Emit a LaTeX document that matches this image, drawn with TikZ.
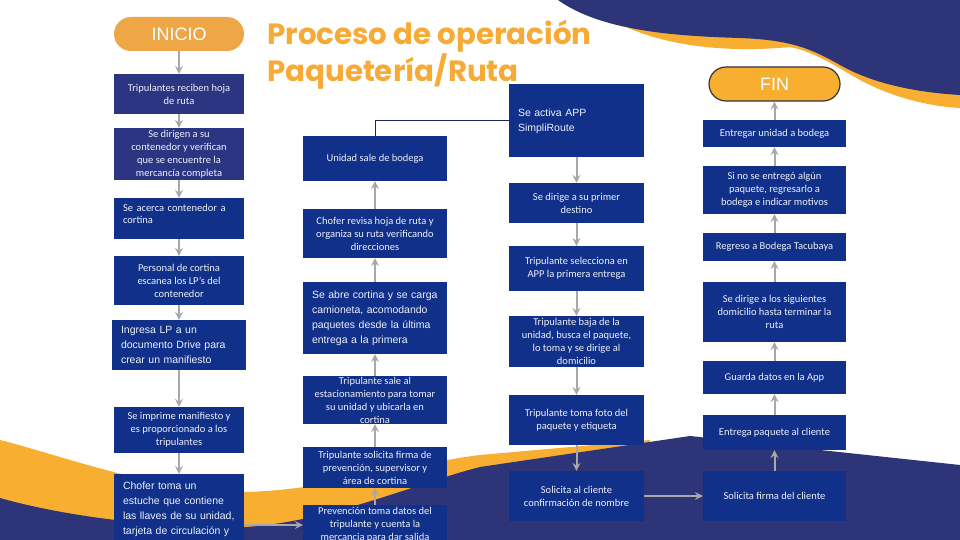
\documentclass[tikz,border=0pt]{standalone}
\usepackage{fontspec}
\setmainfont{Carlito}
\newfontfamily\arialfont{Liberation Sans}
\newfontfamily\titlefont{Poppins}
\usetikzlibrary{arrows.meta}
\definecolor{boxblue}{HTML}{10308A}
\definecolor{boxnavy}{HTML}{2C3582}
\definecolor{bgnavy}{HTML}{2E3478}
\definecolor{bgorange}{HTML}{F8AE30}
\definecolor{titleorange}{HTML}{F7AA35}
\definecolor{pillorange}{HTML}{EFA647}
\definecolor{arrowgray}{HTML}{A8A8AC}
\definecolor{boxtext}{HTML}{EEF1F8}
\definecolor{linknavy}{HTML}{1E2756}

\tikzset{
  stepbox/.style={fill=boxblue, text=boxtext, inner sep=0pt, align=center,
    font=\fontsize{10.5}{13}\selectfont},
  leftbox/.style={stepbox, inner xsep=9pt, align=left,
    font=\arialfont\fontsize{10.5}{15}\selectfont},
  pill/.style={rounded corners=17pt, inner sep=0pt, minimum height=34pt,
    text=white, font=\arialfont\fontsize{18}{20}\selectfont},
  colA/.style={minimum width=130pt},
  colB/.style={minimum width=144pt},
  colC/.style={minimum width=135pt},
  colD/.style={minimum width=143pt},
  arr/.style={draw=arrowgray, line width=2pt,
    -{Stealth[length=8pt,width=8pt,inset=3pt]}},
  link/.style={draw=linknavy, line width=1pt},
}

\begin{document}
\begin{tikzpicture}[x=1pt,y=-1pt]
  \clip (0,0) rectangle (960,540);
  \fill[white] (0,0) rectangle (960,540);

  % background waves
  \fill[bgorange] (585,0) -- (960,0) -- (960,108)
    .. controls (925,106) and (890,96) .. (860,80)
    .. controls (835,66) and (815,52) .. (790,47)
    .. controls (740,52) and (640,52) .. (585,0) -- cycle;
  \fill[bgnavy] (558,0) -- (960,0) -- (960,95)
    .. controls (910,92) and (870,82) .. (840,65)
    .. controls (810,48) and (790,40) .. (740,38)
    .. controls (670,36) and (600,30) .. (558,0) -- cycle;
  \fill[bgorange] (0,440) .. controls (60,455) and (150,490) .. (245,492)
    .. controls (330,490) and (420,462) .. (480,455) -- (650,440)
    -- (650,540) -- (0,540) -- cycle;
  \fill[bgnavy] (0,498) .. controls (60,515) and (150,528) .. (245,527)
    .. controls (330,522) and (420,482) .. (480,467) -- (690,436)
    -- (960,465) -- (960,540) -- (0,540) -- cycle;

  % title
  \node[anchor=north west, inner sep=0pt, align=left, text=titleorange,
    font=\titlefont\bfseries\fontsize{29.3}{37}\selectfont] (title) at (267,20)
    {Proceso de operación\\Paquetería/Ruta};

  % column 1
  \node[pill, colA, fill=pillorange] (inicio) at (179,34) {INICIO};
  \node[stepbox, colA, fill=boxnavy, minimum height=40pt] (b1) at (179,94)
    {Tripulantes reciben hoja\\de ruta};
  \node[stepbox, colA, fill=boxnavy, minimum height=52pt] (b2) at (179,154)
    {Se dirigen a su\\contenedor y verifican\\que se encuentre la\\mercancía completa};
  \node[stepbox, colA, inner xsep=9pt, align=left, text width=112pt,
    text height=13pt, text depth=28pt] (b3) at (179,218.5)
    {Se acerca contenedor a\\cortina};
  \node[stepbox, colA, minimum height=49pt] (b4) at (179,280.5)
    {Personal de cortina\\escanea los LP’s del\\contenedor};
  \node[leftbox, minimum width=134pt, text width=116pt, minimum height=50pt] (b5) at (179,345)
    {Ingresa LP a un\\documento Drive para\\crear un manifiesto};
  \node[stepbox, colA, minimum height=46pt] (b6) at (179,430)
    {Se imprime manifiesto y\\es proporcionado a los\\tripulantes};
  \node[leftbox, colA, text width=112pt, text height=15pt, text depth=87pt] (b7) at (179,525)
    {Chofer toma un\\estuche que contiene\\las llaves de su unidad,\\tarjeta de circulación y};

  % column 2
  \node[stepbox, colB, minimum height=40pt] (c1) at (375,525)
    {Prevención toma datos del\\tripulante y cuenta la\\mercancia para dar salida};
  \node[stepbox, colB, minimum height=41pt] (c2) at (375,467.5)
    {Tripulante solicita firma de\\prevención, supervisor y\\área de cortina};
  \node[stepbox, colB, minimum height=48pt] (c3) at (375,400)
    {Tripulante sale al\\estacionamiento para tomar\\su unidad y ubicarla en\\cortina};
  \node[leftbox, colB, text width=126pt, minimum height=72pt] (c4) at (375,318)
    {Se abre cortina y se carga\\camioneta, acomodando\\paquetes desde la última\\entrega a la primera};
  \node[stepbox, colB, minimum height=49pt] (c5) at (375,233.5)
    {Chofer revisa hoja de ruta y\\organiza su ruta verificando\\direcciones};
  \node[stepbox, colB, minimum height=45pt] (c6) at (375,158.5)
    {Unidad sale de bodega};

  % column 3
  \node[leftbox, colC, text width=117pt, text height=33pt, text depth=40pt] (d1) at (576.5,120.5)
    {Se activa APP\\SimpliRoute};
  \node[stepbox, colC, minimum height=40pt] (d2) at (576.5,203)
    {Se dirige a su primer\\destino};
  \node[stepbox, colC, minimum height=45pt] (d3) at (576.5,268.5)
    {Tripulante selecciona en\\APP la primera entrega};
  \node[stepbox, colC, minimum height=51pt] (d4) at (576.5,341.5)
    {Tripulante baja de la\\unidad, busca el paquete,\\lo toma y se dirige al\\domicilio};
  \node[stepbox, colC, minimum height=50pt] (d5) at (576.5,420)
    {Tripulante toma foto del\\paquete y etiqueta};
  \node[stepbox, colC, minimum height=50pt] (d6) at (576.5,496)
    {Solicita al cliente\\confirmación de nombre};

  % column 4
  \node[pill, minimum width=131pt, fill=bgorange, draw=black!80, line width=1.2pt] (fin) at (774.5,84) {FIN};
  \node[stepbox, colD, minimum height=27pt] (e1) at (774.5,133.5)
    {Entregar unidad a bodega};
  \node[stepbox, colD, minimum height=48pt] (e2) at (774.5,190)
    {Si no se entregó algún\\paquete, regresarlo a\\bodega e indicar motivos};
  \node[stepbox, colD, minimum height=28pt] (e3) at (774.5,247)
    {Regreso a Bodega Tacubaya};
  \node[stepbox, colD, minimum height=60pt] (e4) at (774.5,312)
    {Se dirige a los siguientes\\domicilio hasta terminar la\\ruta};
  \node[stepbox, colD, minimum height=33pt] (e5) at (774.5,377.5)
    {Guarda datos en la App};
  \node[stepbox, colD, minimum height=35pt] (e6) at (774.5,432.5)
    {Entrega paquete al cliente};
  \node[stepbox, colD, minimum height=50pt] (e7) at (774.5,496)
    {Solicita firma del cliente};

  % connectors
  \foreach \from/\to in {inicio/b1,b1/b2,b2/b3,b3/b4,b4/b5,b5/b6,b6/b7,b7/c1,
      c1/c2,c2/c3,c3/c4,c4/c5,c5/c6,d1/d2,d2/d3,d3/d4,d4/d5,d5/d6,d6/e7,
      e7/e6,e6/e5,e5/e4,e4/e3,e3/e2,e2/e1,e1/fin}
    \draw[arr] (\from) -- (\to);
  \draw[link] (c6.north) |- (d1.west);
\end{tikzpicture}
\end{document}
